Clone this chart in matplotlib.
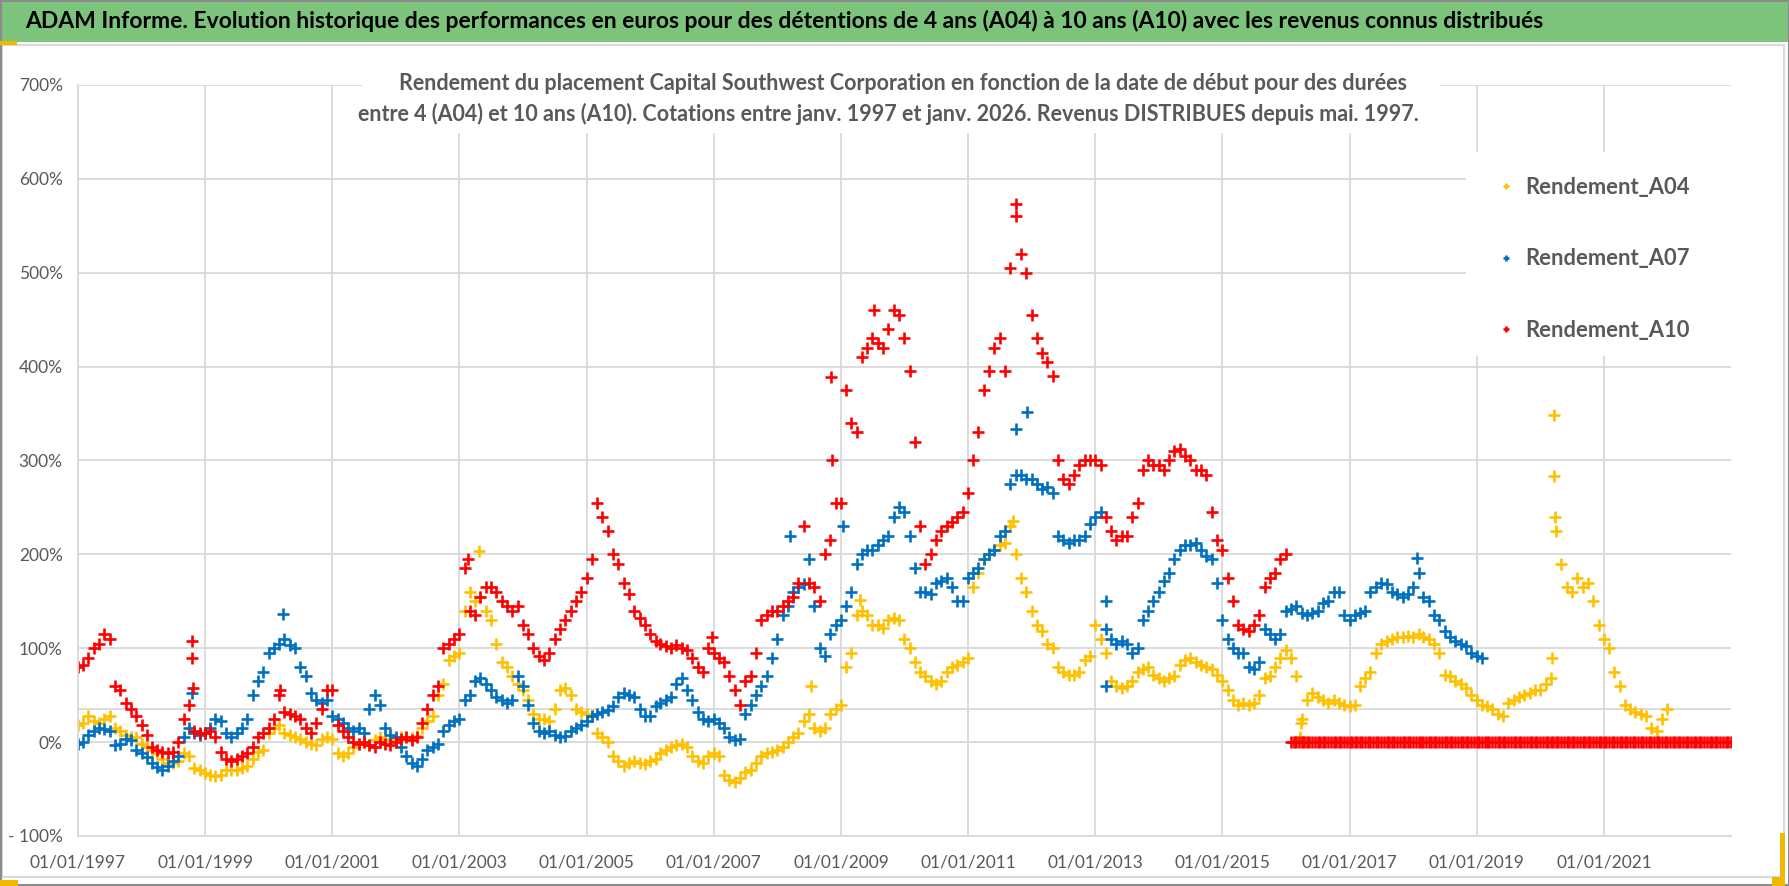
import matplotlib
matplotlib.use('Agg')
import matplotlib.pyplot as plt
from matplotlib.patches import Rectangle
import numpy as np
import pandas as pd

W, H = 1790, 886

# monthly returns in %, one row per year, first value = January
a04_vals = [
    18, 20, 28, 22, 20, 25, 28, 15, 12, 8, 5, 5,              # 1997
    -2, -5, -8, -12, -18, -22, -22, -20, -12, -15, -28, -30,  # 1998
    -33, -35, -36, -35, -30, -30, -30, -28, -25, -18, -10, -8,  # 1999
    10, 15, 18, 10, 8, 5, 3, 0, -2, -3, 3, 5,                 # 2000
    3, -12, -15, -12, -5, -2, 0, -3, 2, 5, 3, 2,              # 2001
    3, 5, 5, 4, 6, 15, 22, 28, 50, 62, 88, 92,                # 2002
    95, 140, 160, 150, 155, 140, 130, 105, 85, 80, 70, 62,    # 2003
    55, 45, 30, 25, 25, 22, 35, 55, 58, 50, 35, 32,           # 2004
    30, 28, 10, 5, 0, -15, -20, -25, -22, -20, -22, -23,      # 2005
    -20, -18, -12, -8, -5, -3, -2, -5, -15, -20, -22, -15,    # 2006
    -12, -15, -35, -40, -42, -38, -32, -30, -22, -15, -12, -10,  # 2007
    -8, -5, 0, 5, 10, 22, 30, 15, 12, 15, 30, 35,             # 2008
    40, 80, 95, 135, 140, 135, 125, 125, 122, 130, 132, 130,  # 2009
    110, 100, 85, 75, 70, 65, 62, 65, 75, 80, 82, 85,         # 2010
    90, 165, 180, 195, 200, 205, 210, 212, 230, 200, 175, 160,  # 2011
    140, 125, 118, 105, 100, 80, 75, 72, 72, 75, 88, 92,      # 2012
    125, 110, 95, 65, 60, 58, 60, 65, 75, 78, 80, 72,         # 2013
    68, 65, 68, 70, 82, 88, 90, 85, 82, 80, 78, 72,           # 2014
    65, 55, 45, 40, 42, 40, 42, 50, 68, 70, 80, 90,           # 2015
    98, 90, 70, 25, 45, 52, 48, 45, 42, 45, 42, 40,           # 2016
    38, 40, 60, 68, 75, 95, 105, 108, 110, 112, 112, 113,     # 2017
    112, 115, 112, 110, 105, 95, 72, 70, 65, 62, 58, 50,      # 2018
    45, 40, 38, 35, 30, 28, 42, 45, 48, 50, 52, 55,           # 2019
    55, 62, 68, 225, 190, 165, 160, 175, 165, 170, 150, 125,  # 2020
    110, 100, 75, 60, 40, 35, 32, 30, 28, 15, 12, 25,         # 2021
    35,                                                       # 2022
]
a07_vals = [
    -2, 0, 8, 12, 15, 14, 12, -3, -2, 3, 2, -8,               # 1997
    -12, -16, -22, -27, -30, -25, -20, -15, 5, 15, 10, 8,     # 1998
    10, 15, 25, 22, 10, 5, 10, 15, 25, 50, 65, 75,            # 1999
    95, 100, 105, 110, 103, 100, 80, 70, 52, 45, 42, 45,      # 2000
    28, 25, 20, 15, 12, 15, 10, 35, 50, 40, 15, 8,            # 2001
    5, -5, -15, -22, -25, -18, -8, -5, -2, 12, 18, 22,        # 2002
    25, 45, 50, 65, 68, 62, 55, 48, 45, 42, 45, 70,           # 2003
    60, 40, 20, 12, 10, 12, 8, 5, 6, 12, 15, 18,              # 2004
    22, 28, 30, 32, 34, 38, 48, 52, 50, 48, 35, 28,           # 2005
    28, 38, 42, 45, 48, 62, 68, 55, 45, 32, 25, 22,           # 2006
    25, 20, 15, 5, 2, 3, 30, 40, 50, 60, 70, 90,              # 2007
    110, 135, 145, 160, 165, 168, 195, 145, 100, 92, 115, 125,  # 2008
    130, 145, 160, 190, 200, 205, 205, 210, 215, 220, 240, 250,  # 2009
    245, 220, 185, 160, 160, 158, 170, 172, 175, 165, 150, 150,  # 2010
    175, 180, 185, 195, 200, 205, 220, 225, 275, 285, 285, 280,  # 2011
    280, 275, 270, 272, 265, 220, 215, 212, 215, 215, 220, 232,  # 2012
    240, 245, 120, 110, 105, 108, 105, 95, 100, 130, 140, 150,   # 2013
    160, 172, 180, 195, 205, 210, 210, 212, 205, 198, 195, 170,  # 2014
    130, 110, 100, 95, 95, 80, 78, 85, 120, 115, 110, 115,    # 2015
    140, 142, 145, 138, 135, 138, 140, 148, 150, 160, 160, 135,  # 2016
    130, 135, 138, 140, 160, 165, 170, 168, 160, 158, 155, 158,  # 2017
    165, 180, 155, 150, 135, 130, 118, 112, 108, 105, 102, 95,   # 2018
    92, 90,                                                   # 2019
]
a10_vals = [
    80, 82, 90, 100, 105, 115, 110, 60, 55, 42, 35, 28,       # 1997
    18, 8, -5, -8, -10, -12, -10, 0, 25, 40, 12, 10,          # 1998
    10, 12, 5, -10, -18, -20, -18, -15, -12, -5, 5, 10,       # 1999
    15, 25, 50, 32, 30, 28, 25, 15, 10, 20, 35, 55,           # 2000
    55, 18, 12, 5, 0, -2, 0, -3, -5, 0, -2, -3,               # 2001
    0, 3, 5, 2, 5, 20, 35, 50, 60, 100, 105, 110,             # 2002
    115, 185, 140, 135, 155, 165, 165, 160, 150, 145, 140, 145,  # 2003
    125, 115, 100, 92, 88, 95, 110, 120, 130, 140, 150, 160,  # 2004
    175, 195, 255, 240, 225, 200, 190, 170, 158, 140, 132, 125,  # 2005
    115, 108, 105, 102, 100, 103, 100, 98, 90, 80, 75, 100,   # 2006
    95, 90, 85, 70, 55, 40, 65, 70, 95, 130, 135, 140,        # 2007
    140, 145, 150, 155, 170, 230, 170, 165, 150, 200, 215, 255,  # 2008
    255, 375, 340, 330, 410, 420, 430, 425, 420, 440, 460, 455,  # 2009
    430, 395, 320, 230, 190, 200, 215, 225, 230, 235, 240, 245,  # 2010
    265, 300, 330, 375, 395, 420, 430, 395, 505, 560, 520, 500,  # 2011
    455, 430, 415, 405, 390, 300, 280, 275, 285, 295, 300, 300,  # 2012
    300, 295, 240, 225, 215, 220, 220, 240, 255, 290, 300, 295,  # 2013
    295, 290, 300, 310, 312, 305, 300, 290, 290, 285, 245, 215,  # 2014
    205, 175, 150, 125, 120, 118, 125, 135, 165, 175, 180, 195,  # 2015
    200,                                                      # 2016
]
# A10 stays at 0 % from Feb 2016 to the end of the axis
a10_zero_start, a10_zero_end = '2016-02-01', '2023-01-01'

# isolated points outside the main band
a04_extra_dates = ['2003-04-25', '2020-03-20', '2020-03-22', '2020-03-10', '2020-03-28',
                   '2016-03-22', '2016-03-28', '2008-07-10', '2011-09-15', '2009-04-20']
a04_extra_vals = [204, 348, 284, 90, 240, 5, 20, 60, 236, 151]
a07_extra_dates = ['2000-03-25', '2011-10-01', '2011-12-05', '2008-03-15', '2018-01-25',
                   '1998-10-20', '2013-03-01', '2013-03-05', '2009-01-10']
a07_extra_vals = [137, 334, 352, 220, 196, 52, 60, 150, 230]
a10_extra_dates = ['1998-10-17', '1998-10-20', '1998-10-22', '2008-11-05', '2008-11-10',
                   '2003-02-20', '2009-07-10', '2011-10-05', '2000-03-05', '2006-12-20']
a10_extra_vals = [108, 90, 58, 389, 300, 195, 460, 573, 55, 112]

series = [
    ('Rendement_A04', '#FFC000', a04_vals, a04_extra_dates, a04_extra_vals),
    ('Rendement_A07', '#0070C0', a07_vals, a07_extra_dates, a07_extra_vals),
    ('Rendement_A10', '#FF0000', a10_vals, a10_extra_dates, a10_extra_vals),
]

title = ("ADAM Informe. Evolution historique des performances en euros pour des détentions "
         "de 4 ans (A04) à 10 ans (A10) avec les revenus connus distribués")
sub1 = ("Rendement du placement Capital Southwest Corporation en fonction de la date de début "
        "pour des durées")
sub2 = ("entre 4 (A04) et 10 ans (A10). Cotations entre janv. 1997 et janv. 2026. "
        "Revenus DISTRIBUES depuis mai. 1997.")

plt.rcParams['font.family'] = ['Lato', 'DejaVu Sans']
grey = '#595959'
grid_c = '#d9d9d9'
MS, MEW = 8, 1.9


def fx(x):
    return x / W


def fy(y):
    return 1 - y / H


fig = plt.figure(figsize=(W / 100, H / 100), dpi=100)
ax = fig.add_axes([fx(78), fy(836), (1731 - 78) / W, (836 - 85) / H])

handles = []
for name, col, vals, ex_d, ex_v in series:
    dates = pd.date_range('1997-01-01', periods=len(vals), freq='MS')
    h, = ax.plot(dates, vals, linestyle='none', marker='+', ms=MS, mew=MEW,
                 color=col, label=name)
    ax.plot(pd.to_datetime(ex_d), ex_v, linestyle='none', marker='+', ms=MS,
            mew=MEW, color=col)
    if name == 'Rendement_A10':
        zd = pd.date_range(a10_zero_start, a10_zero_end, freq='SMS')
        ax.plot(zd, np.zeros(len(zd)), linestyle='none', marker='+', ms=MS,
                mew=MEW, color=col)
    handles.append(h)

ax.set_xlim(pd.Timestamp('1997-01-01'), pd.Timestamp('2023-01-01'))
ax.set_ylim(-100, 700)
ax.set_yticks(np.arange(-100, 701, 100))
ax.set_yticklabels([f'{v}%' if v >= 0 else f'- {abs(v)}%' for v in range(-100, 701, 100)])
xt = pd.date_range('1997-01-01', '2021-01-01', freq='2YS')
ax.set_xticks(xt)
ax.set_xticklabels([d.strftime('%d/%m/%Y') for d in xt])
ax.grid(True, color=grid_c, lw=1.3)
ax.axhline(35, color=grid_c, lw=1.3, zorder=0.5)
ax.set_axisbelow(True)
for s in ['top', 'right']:
    ax.spines[s].set_visible(False)
for s in ['left', 'bottom']:
    ax.spines[s].set_color(grid_c)
    ax.spines[s].set_linewidth(1.3)
ax.tick_params(axis='y', length=0, labelsize=12.5, labelcolor=grey, pad=11)
ax.tick_params(axis='x', length=0, labelsize=12.5, labelcolor=grey, pad=13)

# white boxes behind the subtitle and the legend (they hide the gridlines)
fig.add_artist(Rectangle((fx(362), fy(133)), (1440 - 362) / W, (133 - 66) / H,
                         transform=fig.transFigure, facecolor='white',
                         edgecolor='none', zorder=1))
fig.add_artist(Rectangle((fx(1466), fy(356)), (1780 - 1466) / W, (356 - 152) / H,
                         transform=fig.transFigure, facecolor='white',
                         edgecolor='none', zorder=1))

fig.text(fx(903), fy(83), sub1, ha='center', va='center', fontsize=15.5,
         fontweight='bold', color=grey, zorder=3)
fig.text(fx(888), fy(114), sub2, ha='center', va='center', fontsize=15.5,
         fontweight='bold', color=grey, zorder=3)

leg = fig.legend(handles=handles, loc='upper left', bbox_to_anchor=(fx(1477), fy(157)),
                 frameon=False, prop={'size': 15.8, 'weight': 'bold'}, labelcolor=grey,
                 labelspacing=2.3, handlelength=0.8, handletextpad=0.5,
                 markerscale=0.55)
leg.set_zorder(4)

# title band and frame
fig.add_artist(Rectangle((0, fy(42)), 1, 42 / H, transform=fig.transFigure,
                         facecolor='#7cc47c', edgecolor='none', zorder=1))
fig.text(fx(25), fy(21), title, ha='left', va='center', fontsize=16.5,
         fontweight='bold', color='black', zorder=3)
fig.add_artist(Rectangle((fx(2), fy(877)), (1784 - 2) / W, (877 - 45) / H,
                         transform=fig.transFigure, facecolor='none',
                         edgecolor=grid_c, lw=1.5, zorder=2))
fig.add_artist(Rectangle((fx(0.8), fy(885.2)), (1789.2 - 0.8) / W, 884.4 / H,
                         transform=fig.transFigure, facecolor='none',
                         edgecolor='#8c8c8c', lw=1.5, zorder=2))
for x0, y0, x1, y1 in [(0, 41, 17, 45), (0, 880, 18, 886), (1780, 833, 1785, 877),
                       (1772, 877, 1785, 886)]:
    fig.add_artist(Rectangle((fx(x0), fy(y1)), (x1 - x0) / W, (y1 - y0) / H,
                             transform=fig.transFigure, facecolor='#f0b800',
                             edgecolor='none', zorder=2))

fig.savefig('out.png', dpi=100)
